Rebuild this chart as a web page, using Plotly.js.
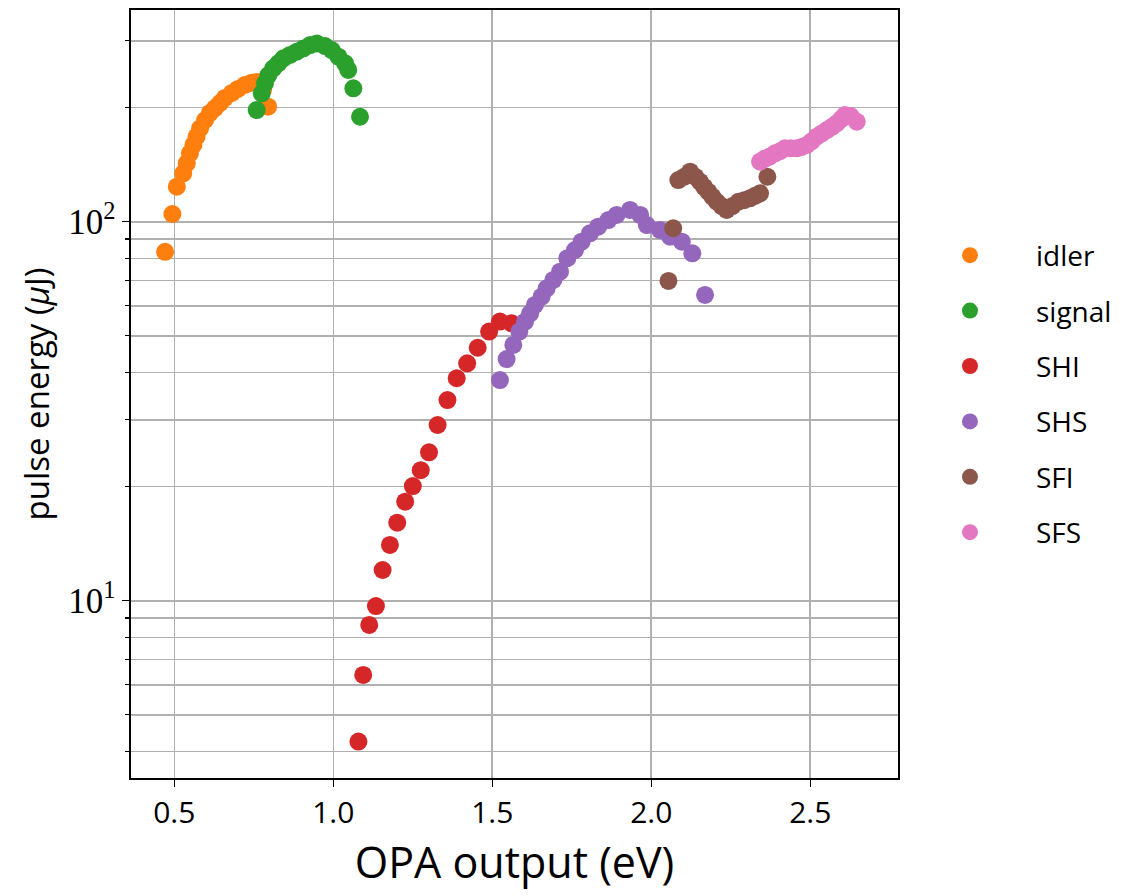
<!DOCTYPE html>
<html>
<head>
<meta charset="utf-8">
<script src="https://cdn.plot.ly/plotly-3.0.1.min.js"></script>
<style>html,body{margin:0;padding:0;background:#fff;}#chart{width:1126px;height:896px;}</style>
</head>
<body>
<div id="chart"></div>
<script>
// Data
const idlerX = [0.471,0.494,0.508,0.528,0.539,0.549,0.560,0.570,0.581,0.597,0.612,0.628,0.644,0.659,0.681,0.700,0.722,0.743,0.760,0.779,0.795];
const idlerY = [83.3,104.8,123.7,134.2,142.6,151.5,159.4,167.6,176.4,185.5,193.6,199.5,205.7,212.1,218.6,224.0,229.5,232.7,233.7,222.6,201.1];

const signalX = [0.759,0.775,0.785,0.796,0.811,0.827,0.843,0.864,0.885,0.906,0.927,0.948,0.974,0.995,1.016,1.037,1.047,1.063,1.084];
const signalY = [197.1,218.2,231.8,243.8,253.9,261.8,269.9,275.4,280.9,286.6,292.4,295.4,290.7,283.8,272.5,261.8,251.4,224.9,189.2];

const shiX = [1.079,1.094,1.113,1.134,1.155,1.178,1.201,1.226,1.250,1.275,1.301,1.328,1.359,1.388,1.421,1.454,1.490,1.524,1.561];
const shiY = [4.25,6.37,8.63,9.68,12.05,14.03,16.06,18.25,20.07,22.1,24.63,29.08,33.84,38.63,42.3,46.5,51.3,54.5,53.95];

const shsX = [1.524,1.545,1.566,1.585,1.603,1.619,1.634,1.655,1.671,1.692,1.713,1.736,1.760,1.781,1.807,1.833,1.865,1.891,1.933,1.965,1.986,2.027,2.059,2.096,2.129,2.169];
const shsY = [38.2,43.4,47.3,51.3,54.5,57.3,60.3,63.4,66.7,70.2,73.8,80.1,84.2,88.6,93.2,97.0,101.0,104.2,107.4,104.2,98.0,95.1,91.3,88.6,82.5,64.1];

const sfiX = [2.054,2.069,2.085,2.104,2.122,2.138,2.153,2.166,2.179,2.192,2.206,2.221,2.237,2.255,2.274,2.292,2.310,2.326,2.342,2.365];
const sfiY = [69.8,96.1,128.8,131.5,135.5,131.5,127.5,123.5,120.0,116.5,112.9,110.0,107.4,110.0,112.9,114.0,115.3,117.0,118.8,131.4];

const sfsX = [2.342,2.356,2.372,2.389,2.405,2.420,2.438,2.457,2.473,2.489,2.504,2.520,2.536,2.552,2.568,2.583,2.597,2.609,2.627,2.646];
const sfsY = [144.0,146.5,148.5,151.5,153.5,156.2,156.2,156.2,157.5,159.4,163.0,167.6,171.0,174.5,178.0,181.8,186.5,191.2,190.0,183.6];

const seriesNames = ['idler','signal','SHI','SHS','SFI','SFS'];
const seriesColors = ['#ff7f0e','#2ca02c','#d62728','#9467bd','#8c564b','#e377c2'];
const seriesX = [idlerX, signalX, shiX, shsX, sfiX, sfsX];
const seriesY = [idlerY, signalY, shiY, shsY, sfiY, sfsY];

const xTickVals = [0.5,1.0,1.5,2.0,2.5];
const xTickText = ['0.5','1.0','1.5','2.0','2.5'];
const yMajorVals = [10,100];
const yMajorText = ['10<sup>1</sup>','10<sup>2</sup>'];
const yMinorVals = [4,5,6,7,8,9,20,30,40,50,60,70,80,90,200,300];

const traces = seriesNames.map((n,i)=>({
  type:'scatter', mode:'markers', name:n, legendgroup:n,
  x: seriesX[i], y: seriesY[i],
  marker:{color:seriesColors[i], size:18, line:{width:0}},
  showlegend:true
}));

const sans = 'Open Sans, DejaVu Sans, sans-serif';
const layout = {
  width:1126, height:896,
  margin:{l:131, r:228, t:10, b:118, autoexpand:false},
  paper_bgcolor:'#ffffff', plot_bgcolor:'#ffffff',
  font:{family:sans, color:'#000'},
  showlegend:true,
  legend:{
    x:1.0078, xanchor:'left', y:0.5, yanchor:'middle',
    font:{family:sans, size:28, color:'#000'},
    itemwidth:122, tracegroupgap:16, borderwidth:0, bgcolor:'rgba(0,0,0,0)'
  },
  xaxis:{
    range:[0.3638, 2.7758],
    tickmode:'array', tickvals:xTickVals, ticktext:xTickText,
    ticks:'outside', ticklen:7, tickwidth:1.5, tickcolor:'#000',
    tickfont:{family:sans, size:30, color:'#000'},
    showgrid:true, gridcolor:'#b0b0b0', gridwidth:1.6,
    showline:true, linecolor:'#000', linewidth:1.6, mirror:true,
    zeroline:false,
    title:{text:'OPA output (eV)', font:{family:sans, size:43, color:'#000'}, standoff:10}
  },
  yaxis:{
    type:'log', range:[0.5322, 2.5586],
    tickmode:'array', tickvals:yMajorVals, ticktext:yMajorText,
    ticks:'outside', ticklen:7, tickwidth:1.5, tickcolor:'#000',
    tickfont:{family:'Liberation Serif, DejaVu Serif, serif', size:35, color:'#000'},
    showgrid:true, gridcolor:'#b0b0b0', gridwidth:1.6,
    minor:{tickmode:'array', tickvals:yMinorVals, ticks:'outside', ticklen:4, tickwidth:1.2, tickcolor:'#000', showgrid:true, gridcolor:'#b0b0b0', gridwidth:1.6},
    showline:true, linecolor:'#000', linewidth:1.6, mirror:true,
    zeroline:false,
    title:{text:'pulse energy (<i>μ</i>J)', font:{family:sans, size:33, color:'#000'}, standoff:8}
  }
};

Plotly.newPlot('chart', traces, layout, {displayModeBar:false, staticPlot:true});
</script>
</body>
</html>
